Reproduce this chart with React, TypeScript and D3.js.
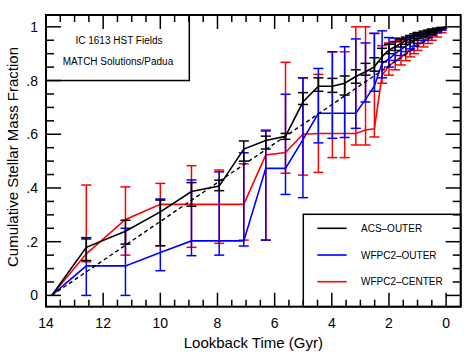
import React from 'react'
import * as d3 from 'd3'

// lookback time of each bin (Gyr)
const ages = [13.8, 12.59, 11.22, 10.0, 8.91, 7.94, 7.08, 6.31, 5.62, 5.01, 4.47, 3.98, 3.55, 3.16, 2.82, 2.51, 2.24, 2.0, 1.78, 1.58, 1.41, 1.26, 1.12, 1.0, 0.79, 0.63, 0.5, 0.32, 0.16, 0.0]

const acsFrac = [0, 0.179, 0.239, 0.311, 0.387, 0.407, 0.545, 0.577, 0.592, 0.72, 0.779, 0.779, 0.79, 0.815, 0.833, 0.851, 0.889, 0.914, 0.926, 0.939, 0.948, 0.955, 0.962, 0.968, 0.975, 0.981, 0.986, 0.991, 0.996, 1]
const acsHi = [0, 0.215, 0.28, 0.355, 0.42, 0.429, 0.575, 0.593, 0.603, 0.755, 0.81, 0.808, 0.817, 0.84, 0.864, 0.885, 0.92, 0.935, 0.945, 0.955, 0.962, 0.968, 0.974, 0.979, 0.984, 0.988, 0.992, 0.995, 0.998, 1]
const acsLo = [0, 0.13, 0.191, 0.185, 0.332, 0.39, 0.5, 0.545, 0.581, 0.711, 0.76, 0.756, 0.746, 0.79, 0.82, 0.835, 0.87, 0.9, 0.912, 0.925, 0.935, 0.943, 0.95, 0.957, 0.965, 0.972, 0.978, 0.985, 0.992, 1]

const outFrac = [0, 0.11, 0.11, 0.16, 0.203, 0.203, 0.203, 0.473, 0.473, 0.58, 0.678, 0.678, 0.678, 0.678, 0.73, 0.78, 0.864, 0.88, 0.9, 0.915, 0.928, 0.938, 0.947, 0.955, 0.964, 0.972, 0.979, 0.986, 0.993, 1]
const outHi = [0, 0.21, 0.25, 0.359, 0.43, 0.46, 0.531, 0.612, 0.749, 0.81, 0.845, 0.907, 0.926, 0.955, 0.94, 0.976, 0.985, 0.96, 0.958, 0.955, 0.958, 0.962, 0.966, 0.97, 0.976, 0.981, 0.986, 0.991, 0.996, 1]
const outLo = [0, 0, 0, 0.092, 0.148, 0.15, 0.184, 0.206, 0.376, 0.364, 0.568, 0.585, 0.588, 0.622, 0.72, 0.76, 0.81, 0.85, 0.875, 0.893, 0.908, 0.918, 0.928, 0.938, 0.95, 0.96, 0.968, 0.977, 0.987, 1]

const cenFrac = [0, 0.155, 0.283, 0.339, 0.339, 0.339, 0.339, 0.523, 0.532, 0.6, 0.603, 0.603, 0.603, 0.603, 0.616, 0.62, 0.82, 0.855, 0.872, 0.888, 0.902, 0.915, 0.926, 0.936, 0.948, 0.959, 0.968, 0.978, 0.99, 1]
const cenHi = [0, 0.411, 0.404, 0.417, 0.483, 0.467, 0.49, 0.616, 0.868, 0.81, 0.823, 0.907, 0.907, 1.0, 1.0, 0.975, 0.93, 0.94, 0.945, 0.95, 0.955, 0.96, 0.965, 0.97, 0.975, 0.98, 0.985, 0.99, 0.996, 1]
const cenLo = [0, 0.125, 0.15, 0.185, 0.179, 0.194, 0.206, 0.206, 0.455, 0.448, 0.458, 0.513, 0.513, 0.56, 0.56, 0.59, 0.79, 0.82, 0.84, 0.858, 0.874, 0.888, 0.9, 0.912, 0.925, 0.938, 0.95, 0.962, 0.978, 1]

// constant star formation reference
const refAges = [13.8, 0]
const refFrac = [0, 1]

const xLabels = [14, 12, 10, 8, 6, 4, 2, 0]
const yLabels = ['0', '.2', '.4', '.6', '.8', '1']
const yLabelVals = [0, 0.2, 0.4, 0.6, 0.8, 1]

const series = [
  { name: 'WFPC2\u2013CENTER', color: '#ff0000', frac: cenFrac, hi: cenHi, lo: cenLo },
  { name: 'WFPC2\u2013OUTER', color: '#0000ff', frac: outFrac, hi: outHi, lo: outLo },
  { name: 'ACS\u2013OUTER', color: '#000000', frac: acsFrac, hi: acsHi, lo: acsLo },
]
const legendOrder = ['ACS\u2013OUTER', 'WFPC2\u2013OUTER', 'WFPC2\u2013CENTER']

const W = 469
const H = 360
const L = 46, R = 460.7, T = 15, B = 306.7
const font = '"Liberation Sans", Arial, Helvetica, sans-serif'

export default function App() {
  const x = d3.scaleLinear().domain([14, -0.51]).range([L, R])
  const y = d3.scaleLinear().domain([-0.042, 1.044]).range([B, T])
  const line = d3.line<[number, number]>().x(d => x(d[0])).y(d => y(d[1]))

  const xMinor = d3.range(0, 14.01, 0.5)
  const yMinor = d3.range(0, 1.001, 0.05)
  const isMajorX = (v: number) => Math.abs(v / 2 - Math.round(v / 2)) < 1e-6
  const isMajorY = (v: number) => Math.abs(v / 0.2 - Math.round(v / 0.2)) < 1e-6

  return (
    <svg width={W} height={H} style={{ position: 'absolute', left: 0, top: 0, background: '#fff' }}>
      {/* error bars + lines */}
      {series.map(s => (
        <g key={s.name}>
          {ages.map((a, i) => s.hi[i] === s.lo[i] ? null : (
            <g key={i} stroke={s.color} strokeWidth={1.5}>
              <line x1={x(a)} x2={x(a)} y1={y(s.hi[i])} y2={y(s.lo[i])} />
              <line x1={x(a) - 5} x2={x(a) + 5} y1={y(s.hi[i])} y2={y(s.hi[i])} />
              <line x1={x(a) - 5} x2={x(a) + 5} y1={y(s.lo[i])} y2={y(s.lo[i])} />
            </g>
          ))}
          <path d={line(ages.map((a, i) => [a, s.frac[i]] as [number, number])) || ''}
            fill="none" stroke={s.color} strokeWidth={1.6} />
        </g>
      ))}
      <path d={line(refAges.map((a, i) => [a, refFrac[i]] as [number, number])) || ''}
        fill="none" stroke="#000" strokeWidth={1.4} strokeDasharray="4,3" />

      {/* label box */}
      <rect x={L} y={T} width={189.3 - L} height={y(0.8) - T} fill="#fff" stroke="#000" strokeWidth={1.5} />
      <text x={119} y={44} fontSize={10} fontFamily={font} textAnchor="middle">IC 1613 HST Fields</text>
      <text x={118} y={65} fontSize={10} fontFamily={font} textAnchor="middle">MATCH Solutions/Padua</text>

      {/* legend */}
      <rect x={303.3} y={214.3} width={R - 303.3} height={B - 214.3} fill="#fff" stroke="#000" strokeWidth={1.5} />
      {legendOrder.map((n, i) => {
        const s = series.find(d => d.name === n)!
        const ly = 228.3 + i * 26.7
        return (
          <g key={n}>
            <line x1={317.3} x2={346.7} y1={ly} y2={ly} stroke={s.color} strokeWidth={1.6} />
            <text x={361} y={ly + 3.6} fontSize={10} fontFamily={font}>{n}</text>
          </g>
        )
      })}

      {/* ticks */}
      <g stroke="#000" strokeWidth={1.5}>
        {xMinor.map(v => {
          const len = isMajorX(v) ? 14 : 7
          return (
            <g key={'x' + v}>
              <line x1={x(v)} x2={x(v)} y1={B} y2={B - len} />
              <line x1={x(v)} x2={x(v)} y1={T} y2={T + len} />
            </g>
          )
        })}
        {yMinor.map(v => {
          const len = isMajorY(v) ? 15 : 8
          return (
            <g key={'y' + v}>
              <line x1={L} x2={L + len} y1={y(v)} y2={y(v)} />
              <line x1={R} x2={R - len} y1={y(v)} y2={y(v)} />
            </g>
          )
        })}
      </g>
      <rect x={L} y={T} width={R - L} height={B - T} fill="none" stroke="#000" strokeWidth={2} />

      {/* tick labels */}
      {xLabels.map(v => (
        <text key={'xl' + v} x={x(v)} y={328} fontSize={14} fontFamily={font} textAnchor="middle">{v}</text>
      ))}
      {yLabelVals.map((v, i) => (
        <text key={'yl' + v} x={38} y={y(v) + 5} fontSize={14} fontFamily={font} textAnchor="end">{yLabels[i]}</text>
      ))}

      {/* axis titles */}
      <text x={(L + R) / 2} y={348} fontSize={15} fontFamily={font} textAnchor="middle">Lookback Time (Gyr)</text>
      <text transform={`translate(18, ${157}) rotate(-90)`} fontSize={15} fontFamily={font} textAnchor="middle">Cumulative Stellar Mass Fraction</text>
    </svg>
  )
}
